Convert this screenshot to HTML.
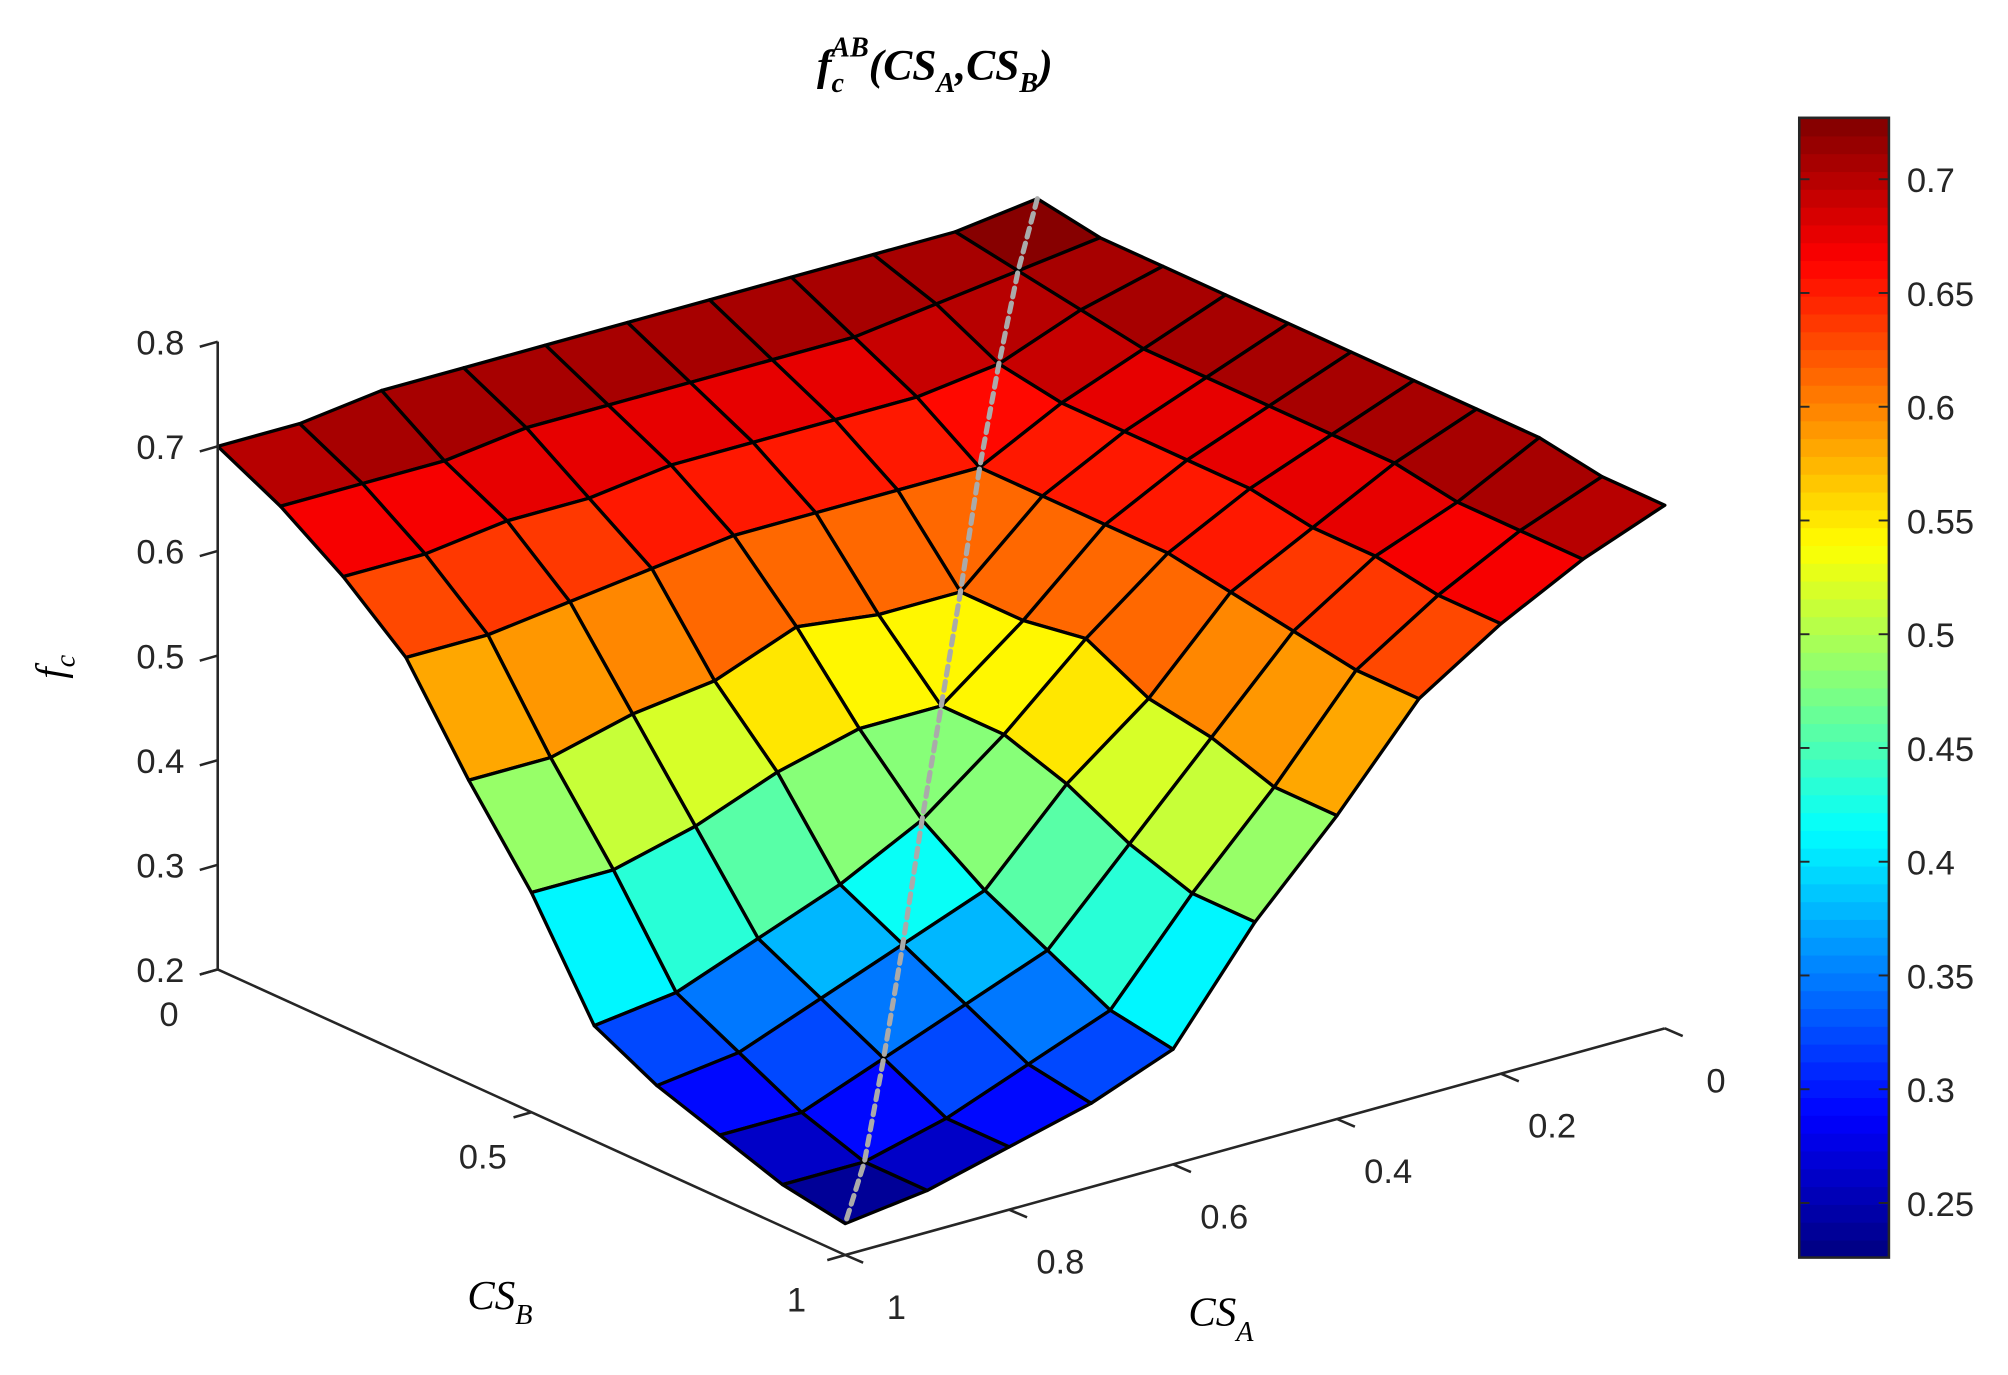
<!DOCTYPE html>
<html><head><meta charset="utf-8">
<style>
html,body{margin:0;padding:0;background:#fff;}
svg{display:block;}
text{font-family:"Liberation Sans",sans-serif;fill:#262626;}
.ser{font-family:"Liberation Serif",serif;font-style:italic;fill:#000;}
</style></head>
<body>
<svg id="chart" xmlns="http://www.w3.org/2000/svg" width="2008" height="1375" viewBox="0 0 1568 1073.7">
  <rect x="0" y="0" width="1568" height="1074" fill="#fff"/>
  <text class="ser" x="730" y="62" text-anchor="middle" font-size="34" font-weight="bold">f<tspan font-size="22" dy="10">c</tspan><tspan font-size="22" dy="-28" dx="-10">AB</tspan><tspan dy="18">(CS</tspan><tspan font-size="22" dy="10">A</tspan><tspan dy="-10">,CS</tspan><tspan font-size="22" dy="10">B</tspan><tspan dy="-10">)</tspan></text>
  <g id="surface"></g>
  <g id="axes"></g>
  <g id="colorbar"></g>
  <text class="ser" font-size="32" transform="translate(50,530) rotate(-90)">f<tspan font-size="22" dy="8">c</tspan></text>
  <text class="ser" font-size="32" x="365" y="1022">CS<tspan font-size="22" dy="12">B</tspan></text>
  <text class="ser" font-size="32" x="928" y="1035">CS<tspan font-size="22" dy="12">A</tspan></text>
</svg>
<script>
// grid values: rows = CS_A (0..1 step 0.1), cols = CS_B (0..1 step 0.1)
const csA = [0,0.1,0.2,0.3,0.4,0.5,0.6,0.7,0.8,0.9,1];
const csB = [0,0.1,0.2,0.3,0.4,0.5,0.6,0.7,0.8,0.9,1];
const fc = [
 [0.72,0.71,0.71,0.71,0.71,0.71,0.71,0.71,0.71,0.70,0.70],
 [0.71,0.70,0.69,0.68,0.68,0.68,0.68,0.68,0.67,0.67,0.67],
 [0.71,0.69,0.66,0.65,0.65,0.65,0.65,0.64,0.64,0.63,0.63],
 [0.71,0.68,0.65,0.61,0.61,0.61,0.61,0.60,0.59,0.58,0.58],
 [0.71,0.68,0.65,0.61,0.54,0.54,0.55,0.52,0.51,0.49,0.49],
 [0.71,0.68,0.65,0.61,0.54,0.48,0.48,0.46,0.43,0.41,0.41],
 [0.71,0.68,0.65,0.61,0.55,0.48,0.42,0.38,0.35,0.32,0.31],
 [0.71,0.68,0.64,0.60,0.52,0.46,0.38,0.35,0.32,0.29,0.28],
 [0.71,0.67,0.64,0.59,0.51,0.43,0.35,0.32,0.29,0.26,0.26],
 [0.70,0.67,0.63,0.58,0.49,0.41,0.32,0.29,0.26,0.24,0.24],
 [0.70,0.67,0.63,0.58,0.49,0.41,0.31,0.28,0.26,0.24,0.23]
];
const zTicks = [0.2,0.3,0.4,0.5,0.6,0.7,0.8];
const bTicks = [0,0.5,1];
const aTicks = [0,0.2,0.4,0.6,0.8,1];
const cbTicks = [0.25,0.3,0.35,0.4,0.45,0.5,0.55,0.6,0.65,0.7];
const cMin = 0.226, cMax = 0.727;

const NS = "http://www.w3.org/2000/svg";
function mk(tag, attrs, parent){const e=document.createElementNS(NS,tag);for(const k in attrs)e.setAttribute(k,attrs[k]);parent.appendChild(e);return e;}
function proj(a,b,z){
  return [660 + 640*(1-a) - 490*(1-b), 980 - 177*(1-a) - 223*(1-b) - 817*(z-0.2)];
}
function jet(v){
  let t=(v-cMin)/(cMax-cMin); t=Math.max(0,Math.min(0.9999,t));
  t=(Math.floor(t*64)+0.5)/64;
  const c=x=>Math.round(255*Math.max(0,Math.min(1,x)));
  return `rgb(${c(1.5-Math.abs(4*t-3))},${c(1.5-Math.abs(4*t-2))},${c(1.5-Math.abs(4*t-1))})`;
}
const surf=document.getElementById('surface');
const cells=[];
for(let i=0;i<csA.length-1;i++)for(let j=0;j<csB.length-1;j++)cells.push([i,j]);
cells.sort((p,q)=>(p[0]+p[1])-(q[0]+q[1]));
for(const [i,j] of cells){
  const pts=[[i,j],[i+1,j],[i+1,j+1],[i,j+1]].map(([r,c])=>proj(csA[r],csB[c],fc[r][c]));
  const p=mk('polygon',{points:pts.map(p=>p.join(',')).join(' '),fill:jet(fc[i][j]),stroke:'#000','stroke-width':2.6,'stroke-linejoin':'round'},surf);
  
  
}
// diagonal dotted line
let d='';
for(let k=0;k<csA.length;k++){const q=proj(csA[k],csB[k],fc[k][k]);d+=(k?'L':'M')+q[0]+','+q[1];}
const dl=mk('path',{d:d,fill:'none',stroke:'#aaaaaa','stroke-width':4,'stroke-dasharray':'7,5','stroke-linecap':'round'},surf);



const ax=document.getElementById('axes');
// z axis
const z0=proj(1,0,0.2), z1=proj(1,0,0.8);
mk('line',{x1:z0[0],y1:z0[1],x2:z1[0],y2:z1[1],stroke:'#262626','stroke-width':2},ax);
for(const t of zTicks){
  const p=proj(1,0,t);
  mk('line',{x1:p[0]-14,y1:p[1]+4,x2:p[0],y2:p[1],stroke:'#262626','stroke-width':2},ax);
  const tx=mk('text',{x:p[0]-26,y:p[1]+10,'text-anchor':'end','font-size':27},ax);
  tx.textContent=t.toFixed(1);
  
  
}
// CS_B axis (a=1)
const b0=proj(1,0,0.2), b1=proj(1,1,0.2);
mk('line',{x1:b0[0],y1:b0[1],x2:b1[0],y2:b1[1],stroke:'#262626','stroke-width':2},ax);
for(const t of bTicks){
  const p=proj(1,t,0.2);
  mk('line',{x1:p[0],y1:p[1],x2:p[0]-14,y2:p[1]+4,stroke:'#262626','stroke-width':2},ax);
  const tx=mk('text',{x:p[0]-38,y:p[1]+44,'text-anchor':'middle','font-size':27},ax);
  tx.textContent=String(t);
  
  
}
// CS_A axis (b=1)
const a0=proj(1,1,0.2), a1=proj(0,1,0.2);
mk('line',{x1:a0[0],y1:a0[1],x2:a1[0],y2:a1[1],stroke:'#262626','stroke-width':2},ax);
for(const t of aTicks){
  const p=proj(t,1,0.2);
  mk('line',{x1:p[0],y1:p[1],x2:p[0]+14,y2:p[1]+6,stroke:'#262626','stroke-width':2},ax);
  const tx=mk('text',{x:p[0]+40,y:p[1]+50,'text-anchor':'middle','font-size':27},ax);
  tx.textContent=String(t);
  
  
}
// colorbar
const cb=document.getElementById('colorbar');
const cx=1405,cw=70,cy0=92,cy1=982;
const cy=v=>cy1-(v-cMin)/(cMax-cMin)*(cy1-cy0);
for(let k=0;k<64;k++){
  const v=cMin+(k+0.5)/64*(cMax-cMin);
  const yTop=cy1-(k+1)/64*(cy1-cy0), h=(cy1-cy0)/64;
  mk('rect',{x:cx,y:yTop,width:cw,height:h+0.6,fill:jet(v)},cb);
}
mk('rect',{x:cx,y:cy0,width:cw,height:cy1-cy0,fill:'none',stroke:'#262626','stroke-width':2},cb);
for(const t of cbTicks){
  const y=cy(t);
  mk('line',{x1:cx,y1:y,x2:cx+8,y2:y,stroke:'#262626','stroke-width':1.5},cb);
  mk('line',{x1:cx+cw-8,y1:y,x2:cx+cw,y2:y,stroke:'#262626','stroke-width':1.5},cb);
  const tx=mk('text',{x:cx+cw+14,y:y+10,'font-size':27},cb);
  tx.textContent=String(t);
  
  
}
</script>
</body></html>
